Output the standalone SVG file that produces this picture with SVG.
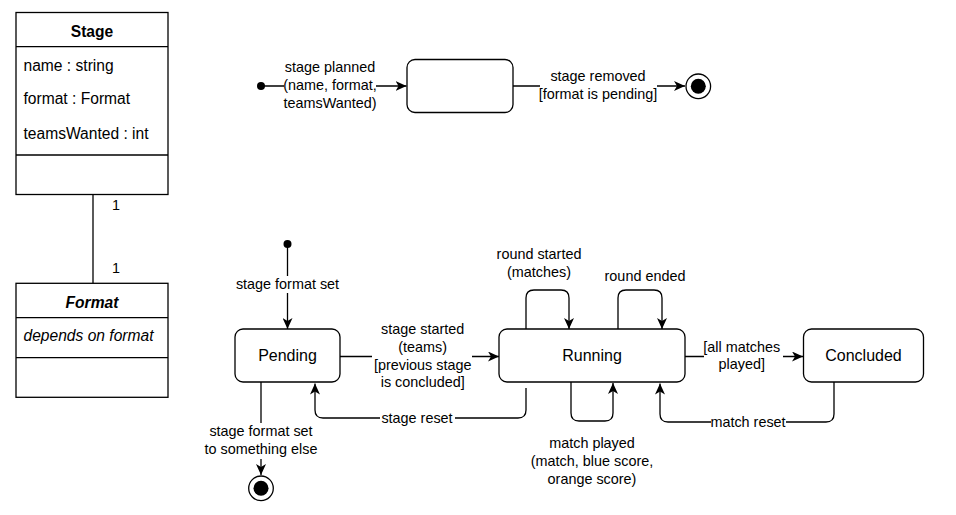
<svg xmlns="http://www.w3.org/2000/svg" width="956" height="515" viewBox="0 0 956 515">
<style>
.box{fill:#fff;stroke:#000;stroke-width:1.3}
.ln{fill:none;stroke:#000;stroke-width:1.3}
.t{font-family:"Liberation Sans",Arial,sans-serif;fill:#000}
.lbl{font-size:14.4px;text-anchor:middle}
.st{font-size:16px;text-anchor:middle}
.attr{font-size:15.6px}
.bg{fill:#fff;stroke:none}
</style>
<defs>
<marker id="arr" viewBox="0 0 11 10" refX="11" refY="5" markerWidth="11" markerHeight="10" markerUnits="userSpaceOnUse" orient="auto">
<path d="M0,0 L11,5 L0,10 L3,5 Z" fill="#000"/>
</marker>
</defs>
<rect width="956" height="515" fill="#fff"/>

<g id="connectors">
<!-- association -->
<path class="ln" d="M93,195 L93,283"/>
<text class="t" x="112" y="209.5" font-size="14.4">1</text>
<text class="t" x="112" y="272.5" font-size="14.4">1</text>

<!-- top machine -->
<path class="ln" d="M261,86 L406.5,86" marker-end="url(#arr)"/>
<rect class="bg" x="284" y="60" width="92" height="52"/>
<text class="t lbl" x="330" y="72.3">stage planned</text>
<text class="t lbl" x="330" y="90">(name, format,</text>
<text class="t lbl" x="330" y="107.7">teamsWanted)</text>

<path class="ln" d="M513,86 L685,86" marker-end="url(#arr)"/>
<rect class="bg" x="540" y="67" width="117" height="36"/>
<text class="t lbl" x="598" y="81">stage removed</text>
<text class="t lbl" x="598" y="99">[format is pending]</text>

<!-- bottom machine -->
<path class="ln" d="M287.5,244 L287.5,329" marker-end="url(#arr)"/>
<rect class="bg" x="235" y="276" width="105" height="17"/>
<text class="t lbl" x="287.5" y="289">stage format set</text>

<path class="ln" d="M340,356.5 L499,356.5" marker-end="url(#arr)"/>
<rect class="bg" x="372" y="321" width="100" height="69"/>
<text class="t lbl" x="422.7" y="334.3">stage started</text>
<text class="t lbl" x="422.7" y="352">(teams)</text>
<text class="t lbl" x="422.7" y="369.7">[previous stage</text>
<text class="t lbl" x="422.7" y="386.7">is concluded]</text>

<path class="ln" d="M526,388 L526,410 Q526,418 518,418 L323,418 Q315,418 315,410 L315,383.5" marker-end="url(#arr)"/>
<rect class="bg" x="380" y="410" width="75" height="16"/>
<text class="t lbl" x="417" y="423">stage reset</text>

<path class="ln" d="M261,382 L261,475" marker-end="url(#arr)"/>
<rect class="bg" x="204" y="423" width="114" height="36"/>
<text class="t lbl" x="261" y="436">stage format set</text>
<text class="t lbl" x="261" y="454">to something else</text>

<path class="ln" d="M526,329 L526,298 Q526,290 534,290 L561,290 Q569,290 569,298 L569,329" marker-end="url(#arr)"/>
<text class="t lbl" x="539" y="259">round started</text>
<text class="t lbl" x="539" y="277.3">(matches)</text>

<path class="ln" d="M618,329 L618,298 Q618,290 626,290 L654,290 Q662,290 662,298 L662,329" marker-end="url(#arr)"/>
<text class="t lbl" x="645" y="281">round ended</text>

<path class="ln" d="M571,382 L571,413 Q571,421 579,421 L605,421 Q613,421 613,413 L613,383" marker-end="url(#arr)"/>
<text class="t lbl" x="592" y="447.7">match played</text>
<text class="t lbl" x="592" y="466">(match, blue score,</text>
<text class="t lbl" x="592" y="483.7">orange score)</text>

<path class="ln" d="M685,356.5 L803,356.5" marker-end="url(#arr)"/>
<rect class="bg" x="704" y="338" width="79" height="36"/>
<text class="t lbl" x="741.7" y="351.7">[all matches</text>
<text class="t lbl" x="741.7" y="369.3">played]</text>

<path class="ln" d="M834,382 L834,414 Q834,422 826,422 L668,422 Q660,422 660,414 L660,383.5" marker-end="url(#arr)"/>
<rect class="bg" x="711" y="414" width="75" height="16"/>
<text class="t lbl" x="748" y="426.7">match reset</text>
</g>

<g id="Stage">
<rect class="box" x="16" y="12.5" width="152" height="182"/>
<line class="ln" x1="16" y1="46.7" x2="168" y2="46.7"/>
<line class="ln" x1="16" y1="155" x2="168" y2="155"/>
<text class="t" x="92" y="37.3" font-size="15.6" font-weight="bold" text-anchor="middle">Stage</text>
<text class="t attr" x="23.5" y="70.7">name : string</text>
<text class="t attr" x="23.5" y="104.3">format : Format</text>
<text class="t attr" x="23.5" y="139">teamsWanted : int</text>
</g>

<g id="Format">
<rect class="box" x="16" y="283.3" width="152" height="114"/>
<line class="ln" x1="16" y1="317.7" x2="168" y2="317.7"/>
<line class="ln" x1="16" y1="357.7" x2="168" y2="357.7"/>
<text class="t" x="92" y="308.4" font-size="15.6" font-weight="bold" font-style="italic" text-anchor="middle">Format</text>
<text class="t attr" x="23.5" y="341.4" font-style="italic">depends on format</text>
</g>

<g id="init-top"><circle cx="261" cy="86" r="4" fill="#000"/></g>
<g id="state-unnamed"><rect class="box" x="407" y="59.5" width="106" height="53" rx="8"/></g>
<g id="final-top">
<circle cx="698.3" cy="86.3" r="12.3" fill="#fff" stroke="#000" stroke-width="1.3"/>
<circle cx="698.3" cy="86.3" r="7.5" fill="#000"/>
</g>

<g id="init-bottom"><circle cx="287.5" cy="244" r="4" fill="#000"/></g>
<g id="Pending">
<rect class="box" x="235" y="329" width="105" height="53" rx="8"/>
<text class="t st" x="287.5" y="360.7">Pending</text>
</g>
<g id="Running">
<rect class="box" x="499" y="329" width="186" height="53" rx="8"/>
<text class="t st" x="592" y="360.7">Running</text>
</g>
<g id="Concluded">
<rect class="box" x="803.5" y="329" width="120" height="53" rx="8"/>
<text class="t st" x="863.5" y="360.7">Concluded</text>
</g>
<g id="final-bottom">
<circle cx="261" cy="488.3" r="12.3" fill="#fff" stroke="#000" stroke-width="1.3"/>
<circle cx="261" cy="488.3" r="7.5" fill="#000"/>
</g>
</svg>
